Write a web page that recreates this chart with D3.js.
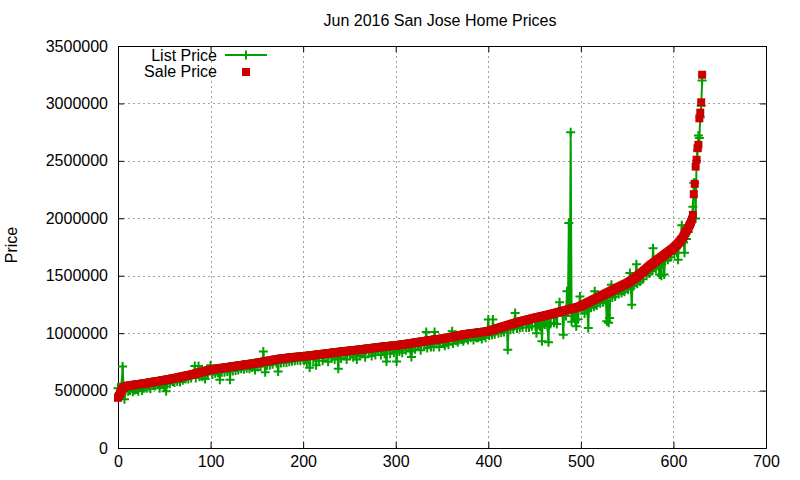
<!DOCTYPE html>
<html>
<head>
<meta charset="utf-8">
<script src="https://cdn.jsdelivr.net/npm/d3@7"></script>
<style>
  html, body { margin: 0; padding: 0; background: #fff; }
  svg { display: block; font-family: "Liberation Sans", Arial, sans-serif; }
</style>
</head>
<body>
<svg id="chart" width="800" height="480"></svg>
<script>
// ---- data (prices in thousands of dollars) ----
const title = "Jun 2016 San Jose Home Prices";
const yLabel = "Price";
const seriesNames = ["List Price", "Sale Price"];
const xTicks = [0, 100, 200, 300, 400, 500, 600, 700];
const yTicks = [0, 500000, 1000000, 1500000, 2000000, 2500000, 3000000, 3500000];

const salePrice = [
  437,452,470,489,505,518,525,531,535,538,
  540,541,543,544,545,546,548,549,550,551,
  552,553,555,556,557,558,559,560,561,562,
  563,564,566,568,569,570,572,573,575,576,
  578,579,580,582,583,584,585,587,588,589,
  590,592,594,595,597,598,600,601,603,605,
  606,608,609,611,612,614,616,618,620,621,
  623,625,626,628,629,631,633,635,636,638,
  640,642,644,646,648,650,652,655,657,659,
  661,663,665,667,669,671,673,675,677,679,
  681,682,683,685,686,687,688,690,691,692,
  693,694,696,697,698,699,700,701,703,704,
  705,706,707,709,710,711,712,713,714,716,
  717,718,719,720,721,723,724,725,726,727,
  728,729,730,732,733,734,735,737,738,739,
  740,742,743,745,746,748,749,750,752,753,
  755,756,758,759,761,762,764,765,767,768,
  769,770,772,773,775,776,777,778,779,780,
  781,782,783,784,785,786,787,788,789,790,
  790,791,792,793,793,794,795,795,796,796,
  797,798,799,800,801,802,803,804,805,806,
  807,808,809,810,811,812,813,814,815,816,
  817,818,819,820,821,822,823,824,825,826,
  827,828,829,830,831,832,833,834,835,836,
  837,838,839,840,841,842,843,844,844,845,
  846,847,848,849,850,851,852,853,853,854,
  855,856,857,858,859,860,861,862,863,864,
  865,866,867,868,869,870,871,872,873,874,
  875,876,877,878,879,880,881,882,883,884,
  885,885,886,887,888,889,890,890,891,892,
  893,894,895,896,897,898,899,900,901,902,
  903,905,906,907,908,910,911,912,913,915,
  916,917,918,920,921,922,923,925,926,927,
  928,930,931,932,934,935,936,938,939,940,
  941,942,943,944,945,946,947,948,949,950,
  951,952,953,955,956,958,959,961,962,964,
  965,967,968,970,971,973,975,976,978,980,
  982,983,985,986,988,989,990,992,993,994,
  995,996,997,998,999,1000,1001,1002,1003,1005,
  1006,1007,1008,1009,1010,1011,1012,1013,1014,1015,
  1017,1019,1021,1024,1026,1029,1031,1034,1036,1039,
  1041,1044,1046,1049,1051,1054,1056,1059,1061,1063,
  1066,1068,1071,1073,1076,1078,1081,1083,1086,1088,
  1090,1093,1095,1097,1099,1101,1103,1106,1108,1110,
  1112,1114,1116,1118,1120,1122,1124,1126,1128,1130,
  1132,1134,1136,1138,1139,1141,1143,1145,1147,1149,
  1150,1152,1154,1156,1158,1160,1162,1164,1166,1168,
  1170,1172,1174,1176,1178,1180,1182,1185,1187,1189,
  1191,1193,1195,1197,1199,1201,1204,1206,1208,1210,
  1212,1214,1216,1218,1220,1222,1224,1227,1229,1232,
  1236,1240,1244,1248,1252,1256,1260,1264,1268,1272,
  1276,1280,1284,1288,1292,1296,1300,1304,1308,1312,
  1316,1320,1324,1328,1332,1336,1340,1344,1348,1352,
  1356,1360,1364,1368,1372,1376,1380,1384,1388,1392,
  1396,1400,1404,1408,1412,1416,1420,1424,1427,1431,
  1435,1440,1445,1450,1455,1460,1466,1472,1478,1484,
  1490,1496,1502,1508,1514,1520,1527,1534,1541,1548,
  1555,1562,1569,1576,1583,1590,1596,1602,1608,1614,
  1620,1626,1632,1638,1644,1650,1656,1662,1668,1674,
  1680,1686,1692,1698,1704,1710,1716,1722,1728,1734,
  1740,1748,1756,1764,1772,1780,1790,1800,1810,1820,
  1832,1846,1860,1874,1888,1902,1916,1932,1948,1966,
  1990,2030,2210,2300,2450,2510,2610,2640,2870,2920,3010,3250
];

const listPrice = [
  520,470,480,500,560,710,540,425,500,530,
  540,495,543,500,520,546,490,549,505,551,
  510,553,495,556,530,558,500,560,520,562,
  563,520,566,540,569,515,572,573,545,576,
  540,579,580,555,583,520,585,587,550,589,
  535,592,495,560,597,598,560,601,603,580,
  606,570,609,611,580,614,616,575,620,621,
  590,625,626,600,629,631,600,635,636,610,
  640,642,644,715,610,650,652,715,620,659,
  661,620,665,667,600,671,673,640,677,679,
  720,682,640,685,686,650,688,690,655,692,
  595,694,660,697,698,660,700,701,665,704,
  705,595,707,709,670,711,712,675,714,716,
  680,718,719,690,721,723,685,725,726,695,
  728,729,690,732,733,700,735,737,680,739,
  740,705,743,745,710,748,749,840,752,660,
  755,720,758,759,720,762,764,730,767,768,
  769,740,772,665,775,776,740,778,779,745,
  781,782,745,784,785,750,787,788,755,790,
  790,760,792,793,765,794,795,760,796,796,
  797,760,799,800,740,802,803,698,805,806,
  807,770,809,810,720,812,813,760,815,816,
  817,760,819,820,785,822,823,750,825,826,
  827,790,829,830,770,832,833,800,690,836,
  837,780,839,840,805,842,843,770,844,845,
  846,810,848,849,790,851,852,853,770,854,
  855,800,857,858,820,860,861,790,863,864,
  865,830,867,868,800,870,871,835,810,874,
  875,840,877,878,810,880,881,845,820,884,
  754,850,886,887,820,889,890,855,830,892,
  893,754,895,896,840,898,899,830,901,902,
  903,850,906,907,870,910,840,793,913,915,
  916,860,918,920,885,922,923,850,926,927,
  928,895,931,1010,870,935,936,900,880,940,
  941,880,1010,944,905,946,947,880,949,950,
  951,915,953,890,915,958,959,900,962,964,
  965,1016,910,970,971,935,975,920,940,980,
  982,945,985,930,950,989,990,955,940,994,
  995,960,997,998,940,1000,1001,960,1003,960,
  1006,970,1008,950,975,1011,1012,960,1014,1015,
  1118,980,1021,1024,985,1118,1031,990,1036,1039,
  1041,1000,1046,1049,1005,1054,1056,1010,1061,1063,
  1066,856,1071,1073,1030,1078,1081,1035,1086,1176,
  1090,1040,1095,1097,1045,1101,1103,1050,1108,1110,
  1112,1050,1116,1118,1050,1122,1124,1060,1128,1130,
  1132,1060,1000,1138,1070,1141,1055,1145,929,1149,
  1150,1075,1154,1156,1060,920,1162,1080,1166,1168,
  1170,1090,1174,1176,1080,1180,1182,1268,1187,1189,
  1191,987,1195,1197,1150,1364,1204,1960,1208,2750,
  1100,1214,1150,1218,1110,1060,1224,1120,1229,1320,
  1236,1200,1244,1248,1170,1256,1260,1200,1045,1272,
  1276,1220,1284,1288,1230,1364,1300,1240,1308,1312,
  1316,1260,1324,1328,1270,1336,1340,1280,1103,1352,
  1090,1132,1364,1422,1310,1376,1380,1320,1388,1392,
  1396,1340,1404,1408,1350,1416,1420,1360,1427,1431,
  1435,1380,1445,1524,1390,1248,1466,1410,1478,1484,
  1600,1430,1502,1508,1450,1520,1527,1470,1541,1548,
  1555,1500,1569,1576,1520,1590,1596,1540,1740,1614,
  1620,1560,1632,1638,1580,1510,1656,1500,1668,1674,
  1510,1630,1692,1698,1640,1710,1716,1660,1728,1734,
  1740,1690,1756,1764,1700,1640,1790,1770,1810,1940,
  1832,1790,1700,1874,1820,1902,1880,1932,1948,1966,
  1995,2100,2310,2310,1999,2500,2590,2720,2700,2880,2980,3200
];

const colors = { list: "#00a000", sale: "#cc0000", grid: "#a0a0a0" };

// ---- layout ----
const svg = d3.select("#chart");
const L = 118, R = 766, T = 46, B = 448;
const x = d3.scaleLinear().domain([0, 700]).range([L, R]);
const y = d3.scaleLinear().domain([0, 3500000]).range([B, T]);

const rows = salePrice.map((s, i) => ({ i, sale: s * 1000, list: listPrice[i] * 1000 }));

// grid
const grid = svg.append("g").attr("stroke", colors.grid).attr("stroke-width", 1)
  .attr("stroke-dasharray", "2,3");
grid.selectAll("line.gx").data(xTicks.filter(t => t > 0 && t < 700)).join("line")
  .attr("x1", d => Math.round(x(d)) + 0.5).attr("x2", d => Math.round(x(d)) + 0.5)
  .attr("y1", T).attr("y2", B);
grid.selectAll("line.gy").data(yTicks.filter(t => t > 0 && t < 3500000)).join("line")
  .attr("class", "gy")
  .attr("x1", L).attr("x2", R)
  .attr("y1", d => Math.round(y(d)) + 0.5).attr("y2", d => Math.round(y(d)) + 0.5);

// axes (ticks inward, mirrored)
const fmt = d3.format("d");
const axB = svg.append("g").attr("transform", `translate(0,${B})`)
  .call(d3.axisBottom(x).tickValues(xTicks).tickFormat(fmt).tickSizeInner(-6).tickSizeOuter(0).tickPadding(8));
const axL = svg.append("g").attr("transform", `translate(${L},0)`)
  .call(d3.axisLeft(y).tickValues(yTicks).tickFormat(fmt).tickSizeInner(-6).tickSizeOuter(0).tickPadding(10));
const axT = svg.append("g").attr("transform", `translate(0,${T})`)
  .call(d3.axisTop(x).tickValues(xTicks).tickFormat("").tickSizeInner(-6).tickSizeOuter(0));
const axR = svg.append("g").attr("transform", `translate(${R},0)`)
  .call(d3.axisRight(y).tickValues(yTicks).tickFormat("").tickSizeInner(-6).tickSizeOuter(0));
[axB, axL, axT, axR].forEach(g => {
  g.select(".domain").remove();
  g.selectAll("text").attr("font-size", 16).attr("font-family", "Liberation Sans, Arial, sans-serif").attr("fill", "#000");
  g.selectAll("line").attr("stroke", "#000");
});

// border
svg.append("rect").attr("x", L + 0.5).attr("y", T + 0.5)
  .attr("width", R - L).attr("height", B - T)
  .attr("fill", "none").attr("stroke", "#000").attr("stroke-width", 1);

// list price line + markers
const line = d3.line().x(d => x(d.i)).y(d => y(d.list));
svg.append("path").datum(rows).attr("d", line)
  .attr("fill", "none").attr("stroke", colors.list).attr("stroke-width", 2);
const plus = (cx, cy) => `M${cx - 4.5},${cy}h9M${cx},${cy - 4.5}v9`;
svg.append("path")
  .attr("d", rows.map(d => plus(x(d.i), y(d.list))).join(""))
  .attr("fill", "none").attr("stroke", colors.list).attr("stroke-width", 2);

// sale price squares
svg.append("g").selectAll("rect").data(rows).join("rect")
  .attr("x", d => x(d.i) - 4).attr("y", d => y(d.sale) - 4)
  .attr("width", 8).attr("height", 8).attr("fill", colors.sale);

// title & y label
svg.append("text").attr("x", 440).attr("y", 26).attr("text-anchor", "middle")
  .attr("font-size", 16).text(title);
svg.append("text").attr("transform", "translate(17,245) rotate(-90)")
  .attr("text-anchor", "middle").attr("font-size", 16).text(yLabel);

// legend
const lg = svg.append("g");
lg.append("text").attr("x", 217).attr("y", 61).attr("text-anchor", "end")
  .attr("font-size", 16).text(seriesNames[0]);
lg.append("line").attr("x1", 225).attr("x2", 267).attr("y1", 55).attr("y2", 55)
  .attr("stroke", colors.list).attr("stroke-width", 2);
lg.append("path").attr("d", plus(246, 55)).attr("stroke", colors.list).attr("stroke-width", 2);
lg.append("text").attr("x", 217).attr("y", 77).attr("text-anchor", "end")
  .attr("font-size", 16).text(seriesNames[1]);
lg.append("rect").attr("x", 242).attr("y", 68).attr("width", 8).attr("height", 8)
  .attr("fill", colors.sale);
</script>
</body>
</html>
